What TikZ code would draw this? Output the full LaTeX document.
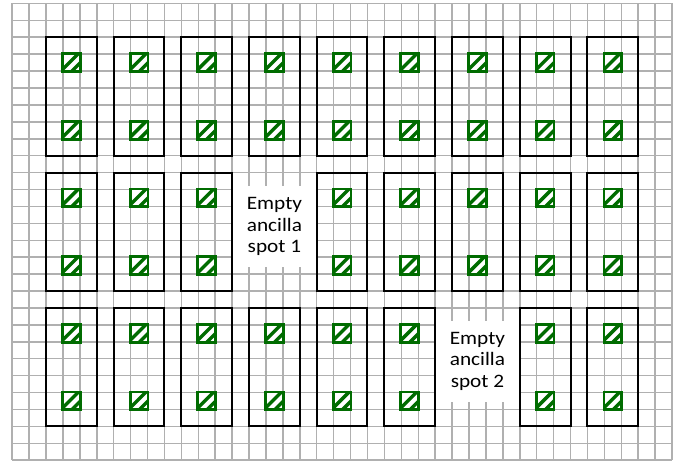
\documentclass[tikz,border=0pt]{standalone}
\usepackage{fontspec}
\setmainfont{Carlito}
\newfontfamily\spotfont[FakeStretch=1.12]{Carlito}
\usepackage{tikz}
\usetikzlibrary{positioning}

\definecolor{gridgray}{RGB}{176,176,176}
\definecolor{qgreen}{RGB}{0,108,0}

\begin{document}
\begin{tikzpicture}[
  x=16.92pt, y=-16.92pt,
  gridline/.style={draw=gridgray, line width=1.5pt},
  block/.style={
    rectangle,
    draw=black,
    line width=2pt,
    minimum width=50.76pt,
    minimum height=118.44pt,
    inner sep=0pt
  },
  qubit/.style={
    rectangle,
    draw=qgreen,
    fill=white,
    line width=2.8pt,
    minimum size=17.8pt,
    inner sep=0pt,
    path picture={
      \draw[qgreen, line width=3.4pt]
        ([xshift=-2pt]path picture bounding box.south west) --
        ([xshift=-2pt]path picture bounding box.north east);
      \draw[qgreen, line width=3.4pt]
        ([xshift=9pt]path picture bounding box.south west) --
        ([xshift=9pt]path picture bounding box.north east);
    }
  },
  spot/.style={
    rectangle,
    fill=white,
    minimum width=83pt,
    minimum height=81pt,
    inner sep=0pt,
    align=center,
    font=\spotfont\fontsize{19}{21.7}\selectfont
  }
]
\useasboundingbox (-0.721,-0.201) rectangle (40.18,27.22);

% Background grid
\foreach \i in {0,...,39}
  \draw[gridline] (\i,0) -- (\i,27);
\foreach \j in {0,...,27}
  \draw[gridline] (0,\j) -- (39,\j);

% Empty ancilla spots
\node[spot] (spot1) at (15.5,13.2) {Empty\\ancilla\\spot 1};
\node[spot] (spot2) at (27.5,21.15) {Empty\\ancilla\\spot 2};

% Blocks with two qubits each
\foreach \row in {0,1,2}{
  \foreach \col in {0,...,8}{
    \pgfmathtruncatemacro{\empt}{(\row==1 && \col==3) || (\row==2 && \col==6)}
    \ifnum\empt=0
      \node[block] (blk-\row-\col) at ({4*\col+3.5},{8*\row+5.5}) {};
      \node[qubit] (q-\row-\col-a) at ({4*\col+3.5},{8*\row+3.5}) {};
      \node[qubit] (q-\row-\col-b) at ({4*\col+3.5},{8*\row+7.5}) {};
    \fi
  }
}

\end{tikzpicture}
\end{document}
